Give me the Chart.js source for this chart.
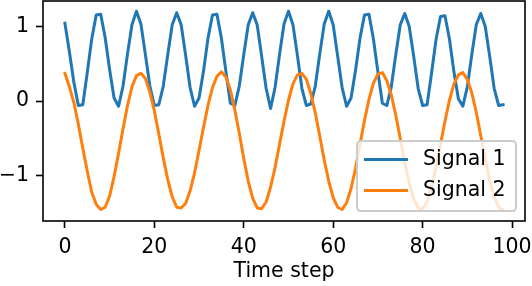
<!DOCTYPE html>
<html>
<head>
<meta charset="utf-8">
<script src="https://cdn.jsdelivr.net/npm/chart.js@4.4.1/dist/chart.umd.min.js"></script>
<style>
  html, body { margin: 0; padding: 0; background: #ffffff; }
  #wrap { width: 532px; height: 286px; }
</style>
</head>
<body>
<div id="wrap"><canvas id="c" width="532" height="286"></canvas></div>
<script>
// ---- data ----
const timeSteps = Array.from({ length: 99 }, (_, i) => i);
const signal1 = [
  1.04, 0.66, 0.25, -0.06, -0.05, 0.38, 0.83, 1.15, 1.16, 0.85,
  0.42, 0.04, -0.07, 0.20, 0.63, 1.02, 1.20, 1.03, 0.62, 0.20,
  -0.06, -0.05, 0.20, 0.62, 1.02, 1.18, 1.02, 0.61, 0.18, -0.07,
  0.04, 0.40, 0.84, 1.15, 1.16, 0.84, 0.40, -0.03, -0.06, 0.20,
  0.62, 1.02, 1.18, 1.02, 0.60, 0.17, -0.10, 0.18, 0.62, 1.03,
  1.20, 1.02, 0.61, 0.17, -0.06, -0.04, 0.20, 0.63, 1.03, 1.20,
  1.02, 0.60, 0.18, -0.07, 0.04, 0.41, 0.84, 1.15, 1.16, 0.83,
  0.39, -0.03, -0.06, 0.19, 0.62, 1.02, 1.17, 1.00, 0.60, 0.17,
  -0.06, -0.05, 0.37, 0.82, 1.13, 1.14, 0.83, 0.39, 0.03, -0.07,
  0.19, 0.62, 1.02, 1.17, 1.00, 0.60, 0.17, -0.06, -0.05
];
const signal2 = [
  0.37, 0.19, -0.02, -0.31, -0.63, -0.94, -1.22, -1.38, -1.45, -1.42,
  -1.27, -1.01, -0.70, -0.37, -0.06, 0.19, 0.34, 0.37, 0.30, 0.12,
  -0.13, -0.44, -0.76, -1.05, -1.28, -1.42, -1.43, -1.37, -1.20, -0.96,
  -0.66, -0.35, -0.06, 0.18, 0.33, 0.39, 0.32, 0.15, -0.12, -0.43,
  -0.77, -1.07, -1.30, -1.43, -1.44, -1.35, -1.15, -0.89, -0.58, -0.27,
  0.01, 0.23, 0.35, 0.37, 0.29, 0.10, -0.16, -0.47, -0.79, -1.07,
  -1.29, -1.42, -1.45, -1.36, -1.17, -0.90, -0.58, -0.26, 0.02, 0.24,
  0.36, 0.38, 0.27, 0.08, -0.19, -0.50, -0.82, -1.10, -1.31, -1.43,
  -1.44, -1.35, -1.15, -0.89, -0.58, -0.27, 0.01, 0.23, 0.35, 0.38,
  0.29, 0.11, -0.15, -0.46, -0.77, -1.06, -1.28, -1.42, -1.46
];
const seriesNames = ['Signal 1', 'Signal 2'];
const seriesColors = ['#1f77b4', '#ff7f0e'];
const xTicks = [0, 20, 40, 60, 80, 100];
const yTicks = [-1, 0, 1];
const xLabel = 'Time step';

const FONT = { family: "'DejaVu Sans', sans-serif", size: 20.5 };

function toPoints(arr) { return arr.map((v, i) => ({ x: timeSteps[i], y: v })); }

const framePlugin = {
  id: 'frame',
  afterDatasetsDraw(chart) {
    const { ctx, chartArea: a } = chart;
    ctx.save();
    ctx.strokeStyle = '#000';
    ctx.lineWidth = 1.6;
    ctx.strokeRect(a.left, a.top, a.right - a.left, a.bottom - a.top);
    ctx.restore();
  }
};

const legendPlugin = {
  id: 'boxLegend',
  afterDraw(chart) {
    const ctx = chart.ctx;
    const x0 = 357, y0 = 141, x1 = 516, y1 = 211, r = 4;
    ctx.save();
    ctx.beginPath();
    ctx.moveTo(x0 + r, y0);
    ctx.lineTo(x1 - r, y0);
    ctx.quadraticCurveTo(x1, y0, x1, y0 + r);
    ctx.lineTo(x1, y1 - r);
    ctx.quadraticCurveTo(x1, y1, x1 - r, y1);
    ctx.lineTo(x0 + r, y1);
    ctx.quadraticCurveTo(x0, y1, x0, y1 - r);
    ctx.lineTo(x0, y0 + r);
    ctx.quadraticCurveTo(x0, y0, x0 + r, y0);
    ctx.closePath();
    ctx.fillStyle = 'rgba(255,255,255,0.8)';
    ctx.fill();
    ctx.strokeStyle = '#cccccc';
    ctx.lineWidth = 2;
    ctx.stroke();
    const rows = [159.5, 190.5];
    ctx.font = FONT.size + 'px ' + FONT.family;
    ctx.textBaseline = 'middle';
    ctx.textAlign = 'left';
    seriesNames.forEach((name, i) => {
      ctx.beginPath();
      ctx.strokeStyle = seriesColors[i];
      ctx.lineWidth = 3;
      ctx.lineCap = 'square';
      ctx.moveTo(365.5, rows[i]);
      ctx.lineTo(406.5, rows[i]);
      ctx.stroke();
      ctx.fillStyle = '#000';
      ctx.fillText(name, 423, rows[i]);
    });
    ctx.restore();
  }
};

const tickGrid = {
  display: true, drawOnChartArea: false, drawTicks: true,
  tickLength: 7, tickWidth: 1.6, tickColor: '#000'
};

new Chart(document.getElementById('c'), {
  type: 'line',
  data: {
    datasets: [
      { label: seriesNames[0], data: toPoints(signal1), borderColor: seriesColors[0],
        borderWidth: 3, pointRadius: 0, tension: 0, fill: false, order: 2,
        borderJoinStyle: 'round', borderCapStyle: 'square' },
      { label: seriesNames[1], data: toPoints(signal2), borderColor: seriesColors[1],
        borderWidth: 3, pointRadius: 0, tension: 0, fill: false, order: 1,
        borderJoinStyle: 'round', borderCapStyle: 'square' }
    ]
  },
  options: {
    responsive: false,
    animation: false,
    devicePixelRatio: 1,
    layout: { padding: { top: 1, right: 7, left: 0, bottom: 0 } },
    plugins: { legend: { display: false }, tooltip: { enabled: false } },
    scales: {
      x: {
        type: 'linear', min: -4.9, max: 102.9,
        afterBuildTicks: s => { s.ticks = xTicks.map(v => ({ value: v })); },
        afterFit: s => { s.height = 65; s.paddingLeft = 0; s.paddingRight = 0; },
        grid: tickGrid,
        border: { display: false },
        ticks: { font: FONT, color: '#000', padding: 7, maxRotation: 0, autoSkip: false },
        title: { display: true, text: xLabel, font: FONT, color: '#000', padding: { top: 0, bottom: 2 } }
      },
      y: {
        type: 'linear', min: -1.604, max: 1.337,
        afterBuildTicks: s => { s.ticks = yTicks.map(v => ({ value: v })); },
        afterFit: s => { s.width = 43; s.paddingTop = 0; s.paddingBottom = 0; },
        grid: tickGrid,
        border: { display: false },
        ticks: {
          font: FONT, color: '#000', padding: 7, autoSkip: false,
          callback: v => (v < 0 ? '\u2212' + Math.abs(v) : String(v))
        }
      }
    }
  },
  plugins: [framePlugin, legendPlugin]
});
</script>
</body>
</html>
